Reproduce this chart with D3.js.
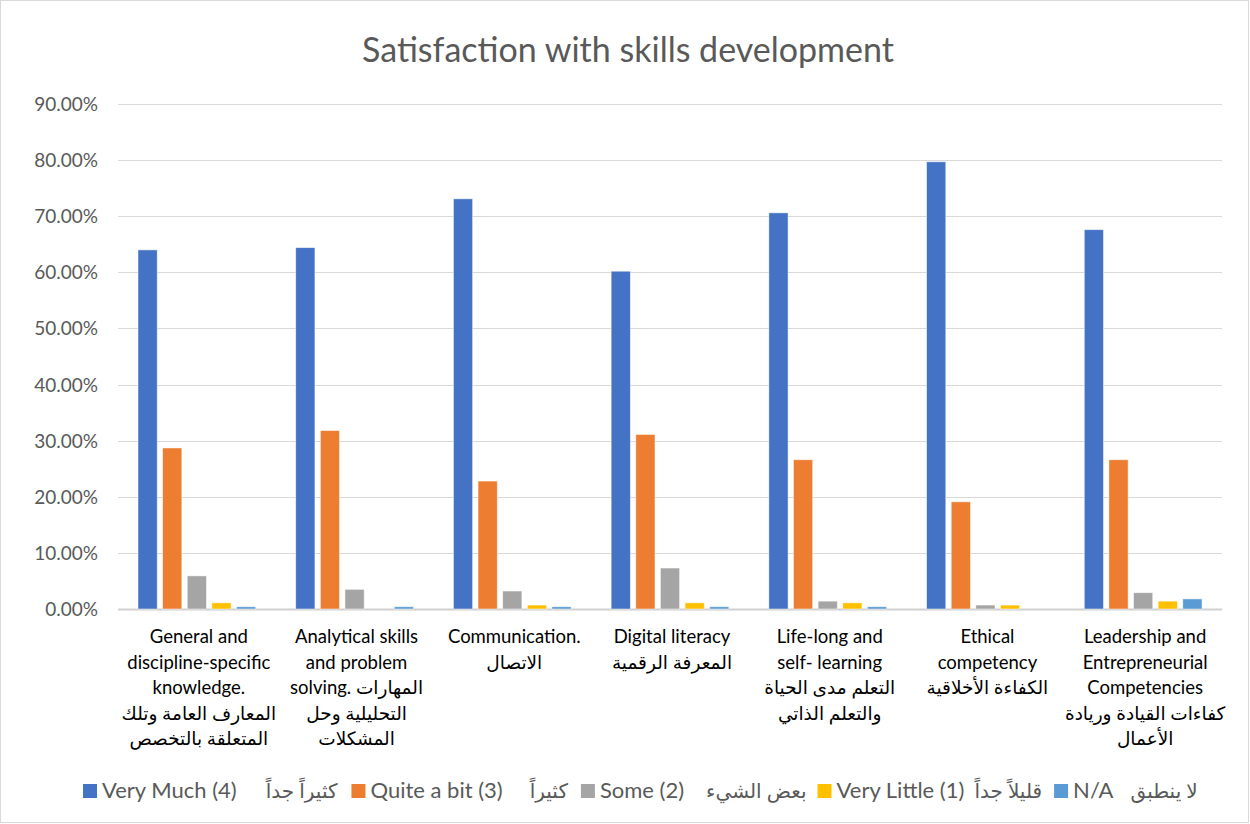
<!DOCTYPE html>
<html>
<head>
<meta charset="utf-8">
<script src="https://cdn.jsdelivr.net/npm/d3@7"></script>
<style>
  body { margin: 0; background: #fff; }
  text { font-family: Lato, "DejaVu Sans", sans-serif; }
</style>
</head>
<body>
<script>
(function() {

var categories = [
  ["General and", "discipline-specific", "knowledge.", "المعارف العامة وتلك", "المتعلقة بالتخصص"],
  ["Analytical skills", "and problem", "solving.  المهارات", "التحليلية وحل", "المشكلات"],
  ["Communication.", "الاتصال"],
  ["Digital literacy", "المعرفة الرقمية"],
  ["Life-long and", "self- learning", "التعلم مدى الحياة", "والتعلم الذاتي"],
  ["Ethical", "competency", "الكفاءة الأخلاقية"],
  ["Leadership and", "Entrepreneurial", "Competencies", "كفاءات القيادة وريادة", "الأعمال"]
];

var seriesNames  = ["Very Much (4)", "Quite a bit (3)", "Some (2)", "Very Little (1)", "N/A"],
    seriesArabic = ["كثيراً جداً", "كثيراً", "بعض  الشيء", "قليلاً جداً", "لا ينطبق"],
    colors       = ["#4472c4", "#ed7d31", "#a5a5a5", "#ffc000", "#5b9bd5"];

var veryMuch   = [64.0, 64.4, 73.1, 60.2, 70.6, 79.7, 67.6],
    quiteABit  = [28.7, 31.8, 22.8, 31.1, 26.6, 19.1, 26.6],
    some       = [5.9, 3.5, 3.2, 7.3, 1.4, 0.7, 2.9],
    veryLittle = [1.1, 0, 0.7, 1.1, 1.1, 0.7, 1.4],
    na         = [0.4, 0.4, 0.4, 0.4, 0.4, 0, 1.8];

var series = [veryMuch, quiteABit, some, veryLittle, na];

var yTicks = [0, 10, 20, 30, 40, 50, 60, 70, 80, 90];

var width = 1250, height = 824,
    left = 118, right = 1222, top = 104, bottom = 609,
    gapBefore = [29, 27, 22, 10, 17],
    gapAfter  = [14, 13, 11, 12, 0],
    svg, x0, x1, y;

function init() {
  svg = d3.select("body").append("svg")
          .attr("width", width)
          .attr("height", height);

  svg.append("rect")
    .attr("x", 0.5).attr("y", 0.5)
    .attr("width", width - 2).attr("height", height - 2)
    .attr("fill", "#fff")
    .attr("stroke", "#d9d9d9");

  x0 = d3.scaleBand().domain(d3.range(categories.length)).range([left, right]);
  x1 = d3.scaleBand().domain(d3.range(series.length))
         .range([20, x0.bandwidth() - 20]).paddingInner(0.22);
  y  = d3.scaleLinear().domain([0, 90]).range([bottom, top]);
}

function drawTitle() {
  svg.append("text")
    .attr("x", 628)
    .attr("y", 62)
    .attr("text-anchor", "middle")
    .attr("font-size", 34)
    .attr("fill", "#595959")
    .text("Satisfaction with skills development");
}

function drawAxis() {
  var g = svg.append("g");

  g.selectAll("line.grid")
    .data(yTicks)
    .enter().append("line")
      .attr("class", "grid")
      .attr("x1", left).attr("x2", right)
      .attr("y1", function(d) { return Math.round(y(d)) + 0.5; })
      .attr("y2", function(d) { return Math.round(y(d)) + 0.5; })
      .attr("stroke", function(d) { return d === 0 ? "#d0d0d0" : "#d9d9d9"; })
      .attr("stroke-width", function(d) { return d === 0 ? 2 : 1; });

  g.selectAll("text.tick")
    .data(yTicks)
    .enter().append("text")
      .attr("class", "tick")
      .attr("x", 98)
      .attr("y", function(d) { return y(d) + 7; })
      .attr("text-anchor", "end")
      .attr("font-size", 19)
      .attr("fill", "#595959")
      .text(function(d) { return d.toFixed(2) + "%"; });
}

function drawBars() {
  var groups = svg.append("g").selectAll("g")
    .data(series)
    .enter().append("g")
      .attr("fill", function(d, i) { return colors[i]; });

  groups.selectAll("rect")
    .data(function(d, i) { return d.map(function(v, c) { return { s: i, c: c, v: v }; }); })
    .enter().append("rect")
      .attr("x", function(d) { return x0(d.c) + x1(d.s); })
      .attr("width", x1.bandwidth())
      .attr("y", function(d) { return y(d.v); })
      .attr("height", function(d) { return bottom - y(d.v); })
      .attr("stroke", "#fff")
      .attr("stroke-width", 0.8)
      .attr("stroke-opacity", 0.6);
}

function drawLabels() {
  var lab = svg.append("g").selectAll("text")
    .data(categories)
    .enter().append("text")
      .attr("text-anchor", "middle")
      .attr("font-size", 18.5)
      .attr("fill", "#000");

  lab.selectAll("tspan")
    .data(function(d, i) { return d.map(function(t) { return { t: t, c: i }; }); })
    .enter().append("tspan")
      .attr("x", function(d) { return x0(d.c) + x0.bandwidth() / 2 + 2; })
      .attr("y", function(d, j) { return 643 + j * 25.5; })
      .text(function(d) { return d.t; });
}

function drawLegend() {
  var g = svg.append("g"),
      cx = 83, ly = 798;

  seriesNames.forEach(function(name, i) {
    g.append("rect")
      .attr("x", cx).attr("y", ly - 14)
      .attr("width", 14).attr("height", 14)
      .attr("fill", colors[i]);
    cx += 19;
    var t = g.append("text")
      .attr("x", cx).attr("y", ly)
      .attr("font-size", 22)
      .attr("fill", "#595959")
      .text(name);
    cx += t.node().getComputedTextLength() + gapBefore[i];
    var a = g.append("text")
      .attr("x", cx).attr("y", ly)
      .attr("font-size", 20)
      .attr("fill", "#595959")
      .text(seriesArabic[i]);
    cx += a.node().getComputedTextLength() + gapAfter[i];
  });
}

/* main */
init();
drawAxis();
drawBars();
drawTitle();
drawLabels();
drawLegend();

}());
</script>
</body>
</html>
